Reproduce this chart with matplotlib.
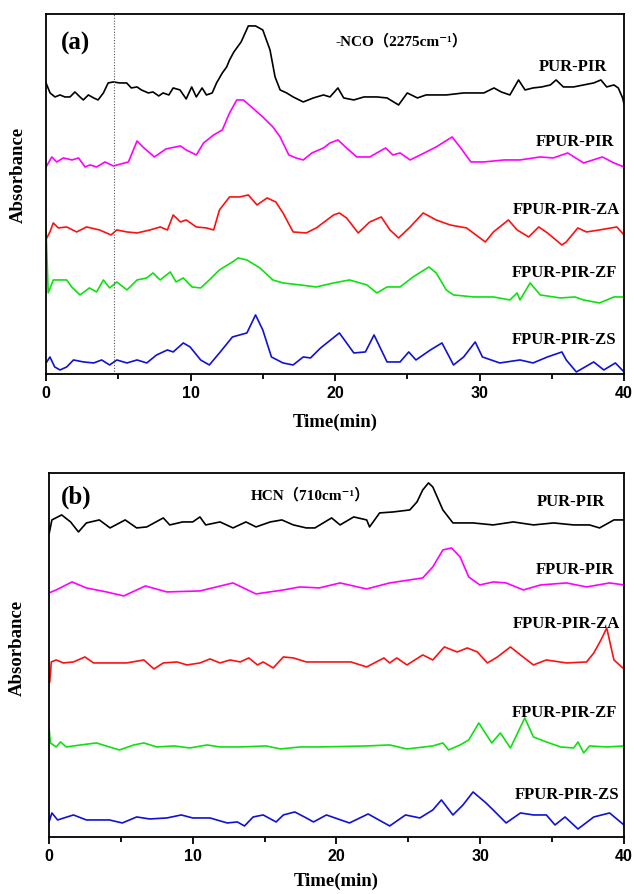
#  TG-FTIR traces: -NCO (a) and HCN (b) absorbance vs time

import numpy as np
import matplotlib
matplotlib.use('Agg')
import matplotlib.pyplot as plt
from matplotlib.ticker import MultipleLocator

names = ['PUR-PIR', 'FPUR-PIR', 'FPUR-PIR-ZA', 'FPUR-PIR-ZF', 'FPUR-PIR-ZS']
colors = ['black', '#ff00ff', '#ff1010', '#10e010', '#1010d8']

#  panel (a): -NCO 2275 cm-1, stacked traces (arbitrary units)
a_pur_t = [0, 0.28, 0.62, 0.97, 1.3, 1.66, 2.0, 2.35, 2.58, 2.93, 3.3, 3.6, 3.97, 4.3, 4.66,
           5.1, 5.58, 5.9, 6.3, 6.6, 7.08, 7.4, 7.8, 8.1, 8.5, 8.8, 9.27, 9.7, 10.08, 10.4,
           10.8, 11.1, 11.5, 11.8, 12.2, 12.5, 12.7, 13, 13.5, 14, 14.5, 15, 15.5, 15.85, 16.2,
           16.65, 17.1, 17.8, 18.5, 19.2, 19.65, 20.2, 20.6, 21.3, 22.0, 22.9, 23.6, 24.4,
           25.0, 25.7, 26.3, 27.7, 28.9, 30.3, 31.0, 31.5, 32.1, 32.7, 33.15, 33.7, 34.3, 34.9,
           35.3, 35.8, 36.5, 37.2, 37.9, 38.4, 38.8, 39.3, 39.6, 39.9, 40]
a_pur_y = [291, 281, 277, 279, 277, 277, 282, 277, 274, 279, 276, 274, 281, 291, 292, 291, 291,
           286, 287, 284, 281, 282, 278, 281, 279, 286, 284, 275, 287, 277, 286, 279, 281, 291,
           301, 307, 314, 322, 332, 348, 348, 344, 324, 297, 284, 281, 277, 272, 276, 279, 277,
           286, 276, 274, 277, 277, 276, 269, 281, 276, 279, 279, 281, 281, 286, 282, 279, 294,
           284, 286, 287, 289, 294, 287, 287, 289, 291, 294, 287, 289, 286, 276, 270]

a_fpur_t = [0, 0.4, 0.74, 1.2, 1.8, 2.25, 2.7, 3.04, 3.5, 4.08, 4.66, 5.7, 6.3, 6.7, 7.5, 8.3,
            9.3, 9.7, 10.4, 10.9, 11.6, 12.2, 12.7, 13.2, 13.65, 14.3, 15.0, 15.7, 16.2, 16.8,
            17.3, 17.8, 18.4, 19.2, 19.65, 20.2, 20.8, 21.5, 22.4, 23.5, 24.0, 24.5, 25.2, 25.9,
            27.0, 28.1, 28.7, 29.4, 30.3, 31.7, 32.8, 34.2, 35.1, 36.1, 37.2, 38.5, 39.3, 40]
a_fpur_y = [207, 217, 212, 216, 214, 216, 207, 209, 207, 212, 208, 212, 233, 227, 217, 225, 228,
            224, 219, 231, 239, 244, 261, 274, 274, 266, 257, 247, 237, 219, 216, 214, 221, 226,
            231, 234, 226, 217, 217, 226, 219, 221, 214, 219, 227, 237, 226, 212, 212, 214, 214,
            217, 216, 221, 211, 217, 211, 207]

a_za_t = [0.05, 0.27, 0.5, 0.85, 1.43, 2.12, 2.8, 3.7, 4.5, 4.9, 5.6, 6.3, 7.2, 7.9, 8.4, 8.8,
          9.3, 9.7, 10.4, 11.1, 11.6, 12.0, 12.7, 13.4, 14.0, 14.6, 15.3, 15.9, 16.4, 17.1, 18.0,
          18.7, 19.9, 20.3, 20.8, 21.6, 22.4, 23.2, 23.8, 24.4, 25.2, 26.1, 27.0, 27.96, 29.1,
          30.4, 30.96, 32.0, 32.6, 33.4, 34.1, 34.7, 35.7, 36.0, 36.8, 37.4, 38.3, 39.5, 40]
a_za_y = [136, 142, 151, 146, 147, 142, 147, 144, 139, 144, 142, 141, 144, 147, 144, 159, 152,
          154, 147, 146, 144, 164, 177, 177, 179, 169, 176, 172, 161, 142, 141, 146, 159, 161,
          156, 141, 152, 157, 144, 136, 147, 161, 154, 149, 146, 132, 142, 154, 144, 137, 147,
          141, 129, 132, 146, 142, 144, 147, 139]

a_zf_t = [0, 0.15, 0.5, 1.43, 1.78, 2.35, 3.0, 3.5, 3.97, 4.4, 4.9, 5.6, 6.3, 6.97, 7.4, 7.9,
          8.6, 9.0, 9.5, 10.1, 10.7, 11.3, 12.0, 12.9, 13.3, 13.9, 14.8, 15.7, 16.4, 17.6, 18.7,
          19.9, 21.0, 22.2, 22.9, 23.6, 24.5, 25.4, 26.5, 27.0, 27.7, 28.2, 29.6, 30.96, 32.1,
          32.6, 32.8, 33.5, 34.2, 35.6, 36.6, 37.2, 38.3, 39.3, 40]
a_zf_y = [144, 81, 94, 94, 87, 79, 86, 82, 94, 86, 92, 84, 94, 96, 101, 94, 102, 92, 96, 87, 86,
          94, 104, 112, 116, 114, 106, 94, 91, 89, 87, 91, 94, 89, 81, 87, 87, 97, 107, 101, 84,
          79, 77, 77, 74, 81, 74, 91, 79, 76, 77, 74, 71, 77, 77]

a_zs_t = [0.05, 0.27, 0.6, 0.97, 1.43, 1.9, 2.6, 3.3, 3.85, 4.4, 4.9, 5.6, 6.3, 6.97, 7.65, 8.4,
          8.8, 9.5, 9.97, 10.7, 11.3, 12.0, 12.9, 13.9, 14.5, 15.0, 15.6, 16.4, 17.1, 17.8, 18.3,
          19.0, 20.3, 21.3, 22.1, 22.7, 23.6, 24.5, 25.1, 25.6, 26.6, 27.4, 28.2, 28.9, 29.7,
          30.2, 31.4, 32.8, 33.7, 34.7, 35.7, 36.0, 36.7, 37.9, 38.6, 39.4, 40]
a_zs_y = [12, 17, 7, 4, 7, 14, 12, 11, 14, 9, 14, 11, 14, 11, 19, 24, 22, 31, 27, 14, 9, 21, 37,
          41, 59, 44, 17, 11, 9, 17, 16, 26, 41, 21, 22, 39, 12, 12, 22, 14, 24, 31, 9, 17, 32,
          17, 11, 14, 11, 17, 22, 14, 2, 12, 4, 11, 2]

#  panel (b): HCN 710 cm-1
b_pur_t = [0.02, 0.2, 0.88, 1.5, 2.05, 2.6, 3.5, 4.25, 5.3, 6.1, 6.8, 7.95, 8.4, 9.3, 10.0, 10.5,
           10.9, 11.9, 12.8, 13.7, 14.4, 15.4, 16.2, 17.0, 17.9, 18.5, 19.66, 20.25, 21.2, 22.1,
           22.3, 23.0, 23.96, 25.1, 25.6, 26.0, 26.4, 26.7, 27.4, 28.1, 29.5, 30.9, 32.3, 33.7,
           35.1, 36.5, 37.6, 38.3, 39.3, 40]
b_pur_y = [304, 317, 322, 315, 305, 314, 317, 309, 317, 309, 310, 319, 312, 315, 315, 320, 312,
           315, 309, 315, 310, 315, 317, 312, 309, 309, 319, 312, 320, 317, 310, 324, 325, 327,
           335, 347, 354, 350, 327, 314, 314, 312, 315, 312, 314, 312, 312, 309, 317, 317]

b_fpur_t = [0, 0.5, 1.6, 2.6, 4.0, 5.2, 6.7, 8.2, 10.5, 12.8, 14.4, 16.3, 17.46, 18.8, 20.25,
            22.1, 23.7, 26.0, 26.7, 27.4, 28.0, 28.6, 29.2, 29.97, 30.9, 31.8, 33.0, 34.2, 36.0,
            37.4, 39.0, 40]
b_fpur_y = [244, 247, 255, 249, 245, 241, 251, 245, 246, 254, 243, 247, 250, 249, 254, 248, 254,
            259, 270, 287, 289, 280, 260, 252, 255, 254, 247, 252, 254, 250, 254, 252]

b_za_t = [0.05, 0.16, 0.5, 1.0, 1.7, 2.5, 3.1, 4.24, 5.4, 6.6, 7.3, 7.95, 8.9, 9.6, 10.5, 11.2,
          11.9, 12.6, 13.3, 13.9, 14.5, 14.9, 15.6, 16.3, 17.0, 17.9, 18.9, 21.0, 22.1, 23.3,
          23.7, 24.2, 24.9, 26.0, 26.7, 27.5, 28.4, 29.1, 29.8, 30.5, 31.2, 32.1, 32.8, 33.7,
          34.6, 36.0, 37.4, 37.9, 38.4, 38.8, 39.3, 40]
b_za_y = [155, 175, 177, 174, 175, 180, 174, 174, 174, 177, 168, 174, 175, 172, 174, 178, 174,
          177, 175, 179, 172, 175, 169, 180, 179, 175, 175, 175, 170, 179, 174, 179, 172, 182,
          177, 190, 185, 189, 185, 174, 180, 190, 182, 172, 177, 174, 175, 184, 197, 209, 177, 168]

b_zf_t = [0.0, 0.1, 0.5, 0.8, 1.2, 2.2, 3.3, 4.2, 4.9, 5.9, 6.6, 7.5, 8.7, 9.8, 11.0, 11.9, 13.3,
          15.1, 16.1, 17.46, 18.85, 22.1, 23.7, 24.9, 26.7, 27.4, 27.8, 28.6, 29.2, 29.9, 30.8,
          31.4, 32.1, 32.6, 33.1, 33.7, 34.6, 35.6, 36.5, 36.8, 37.2, 37.6, 38.8, 40]
b_zf_y = [109, 94, 90, 95, 90, 92, 94, 90, 87, 92, 94, 90, 91, 89, 92, 90, 90, 91, 88, 90, 90,
          91, 92, 88, 91, 94, 87, 92, 97, 114, 94, 104, 89, 104, 119, 100, 95, 90, 89, 95, 84,
          91, 90, 91]

b_zs_t = [0, 0.2, 0.6, 1.7, 2.6, 3.5, 4.2, 5.1, 6.1, 7.0, 8.2, 9.2, 10.0, 11.2, 12.4, 13.1, 13.6,
          14.2, 14.9, 15.8, 16.3, 17.1, 17.9, 18.4, 19.3, 20.9, 22.2, 23.7, 24.8, 25.8, 26.7,
          27.3, 28.1, 28.8, 29.5, 30.4, 30.9, 31.8, 32.8, 33.7, 34.6, 35.2, 35.9, 36.8, 37.9,
          39.0, 40]
b_zs_y = [15, 24, 17, 22, 17, 17, 17, 14, 20, 18, 19, 22, 19, 19, 14, 15, 11, 20, 22, 15, 22, 25,
          19, 15, 22, 14, 23, 11, 22, 19, 27, 37, 22, 32, 45, 34, 27, 14, 24, 22, 22, 12, 20, 8,
          20, 24, 12]

a_traces = [(a_pur_t, a_pur_y), (a_fpur_t, a_fpur_y), (a_za_t, a_za_y),
            (a_zf_t, a_zf_y), (a_zs_t, a_zs_y)]
b_traces = [(b_pur_t, b_pur_y), (b_fpur_t, b_fpur_y), (b_za_t, b_za_y),
            (b_zf_t, b_zf_y), (b_zs_t, b_zs_y)]

#  label positions (x in min, y in data units)
a_lab = [(38.8, 307), (39.3, 232), (39.7, 164), (39.5, 101), (39.5, 34)]
b_lab = [(38.7, 335), (39.3, 267), (39.7, 213), (39.5, 124), (39.7, 42)]

serif = ['Liberation Serif', 'DejaVu Serif', 'Noto Sans CJK SC']

fig = plt.figure(figsize=(6.34, 8.94), dpi=100)
ax_a = fig.add_axes([0.0726, 0.5817, 0.9117, 0.4027])
ax_b = fig.add_axes([0.0773, 0.0638, 0.9069, 0.4072])


def style(ax, ymax, xpad, ylab_x, ylab_y):
    ax.set_xlim(0, 40)
    ax.set_ylim(0, ymax)
    ax.set_yticks([])
    ax.xaxis.set_major_locator(MultipleLocator(10))
    ax.xaxis.set_minor_locator(MultipleLocator(5))
    ax.tick_params(axis='x', which='major', direction='out', length=5, width=1.3, pad=4)
    ax.tick_params(axis='x', which='minor', direction='out', length=3.5, width=1.3)
    for lab in ax.get_xticklabels():
        lab.set_fontfamily('Liberation Sans')
        lab.set_fontweight('bold')
        lab.set_fontsize(11.5)
    for s in ax.spines.values():
        s.set_linewidth(1.3)
    ax.set_xlabel('Time(min)', fontfamily='Liberation Serif', fontweight='bold',
                  fontsize=13.5, labelpad=xpad)
    ax.set_ylabel('Absorbance', fontfamily='Liberation Serif', fontweight='bold',
                  fontsize=13.5)
    ax.yaxis.set_label_coords(ylab_x, ylab_y)


style(ax_a, 360, 8.5, -0.034, 0.553)
style(ax_b, 364, 6, -0.040, 0.52)

for (t, y), c in zip(a_traces, colors):
    ax_a.plot(t, y, color=c, lw=1.2)
for (t, y), c in zip(b_traces, colors):
    ax_b.plot(t, y, color=c, lw=1.2)

ax_a.axvline(4.7, color='#555555', lw=0.8, ls=(0, (1, 1.5)))

for (x, y), n in zip(a_lab, names):
    ax_a.text(x, y, n, ha='right', va='center', fontfamily=serif, fontweight='bold', fontsize=12)
for (x, y), n in zip(b_lab, names):
    ax_b.text(x, y, n, ha='right', va='center', fontfamily=serif, fontweight='bold', fontsize=12)

ax_a.text(1.0, 330, '(a)', ha='left', va='center', fontfamily=serif, fontweight='bold', fontsize=18)
ax_b.text(0.8, 340, '(b)', ha='left', va='center', fontfamily=serif, fontweight='bold', fontsize=18)
ax_a.text(24.6, 333, '-NCO（2275cm⁻¹）', ha='center', va='center',
          fontfamily=serif, fontweight='bold', fontsize=11)
ax_b.text(18.2, 342, 'HCN（710cm⁻¹）', ha='center', va='center',
          fontfamily=serif, fontweight='bold', fontsize=11)

fig.savefig('out.png', dpi=100)
